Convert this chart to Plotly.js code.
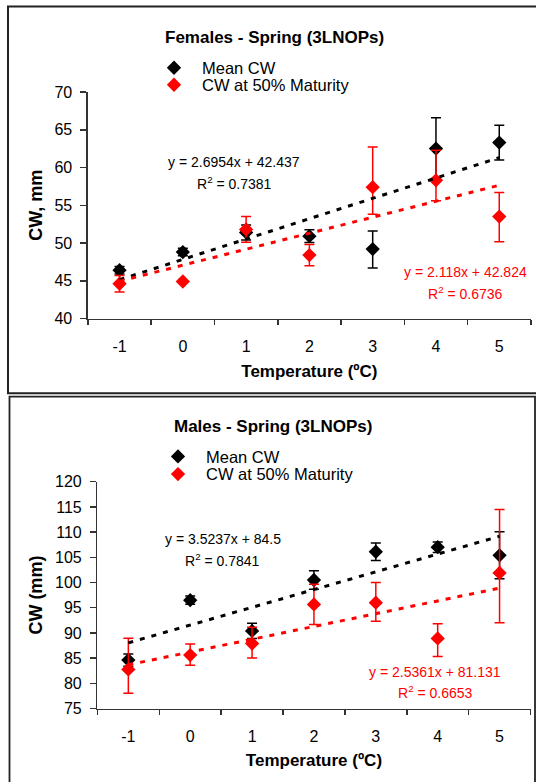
<!DOCTYPE html>
<html><head><meta charset="utf-8">
<script src="https://cdn.plot.ly/plotly-3.0.1.min.js"></script>
<style>html,body{margin:0;padding:0;background:#fff}#chart{width:536px;height:782px}</style>
</head><body><div id="chart"></div>
<script>
// ---- data ----
const temperature = [-1, 0, 1, 2, 3, 4, 5];
const tempLabels = ['-1', '0', '1', '2', '3', '4', '5'];

// Females - Spring
const femMeanCW = [46.4, 48.8, 51.4, 50.9, 49.2, 62.5, 63.3];
const femMeanErrPlus = [0.5, 0.5, 1.0, 0.85, 2.4, 4.1, 2.3];
const femMeanErrMinus = [0.5, 0.5, 1.0, 0.85, 2.5, 4.1, 2.3];
const femMatCW = [44.6, 44.9, 51.8, 48.4, 57.4, 58.3, 53.5];
const femMatErrPlus = [1.1, 0, 1.7, 1.4, 5.3, 4.0, 3.2];
const femMatErrMinus = [1.1, 0, 1.7, 1.4, 3.6, 2.7, 3.35];
const femSlope = [2.6954, 2.118];
const femIntercept = [42.437, 42.824];
const femR2 = ['0.7381', '0.6736'];
const femYTicks = [40, 45, 50, 55, 60, 65, 70];

// Males - Spring
const maleMeanCW = [84.6, 96.5, 90.4, 100.5, 106.1, 107.0, 105.4];
const maleMeanErr = [1.2, 0.8, 1.5, 1.85, 1.75, 1.05, 4.65];
const maleMatCW = [82.75, 85.6, 87.9, 95.65, 96.0, 88.9, 101.9];
const maleMatErrPlus = [6.2, 2.2, 3.2, 4.0, 4.0, 2.9, 12.6];
const maleMatErrMinus = [4.7, 2.0, 2.9, 4.0, 3.7, 3.6, 9.9];
const maleSlope = [3.5237, 2.5361];
const maleIntercept = [84.5, 81.131];
const maleR2 = ['0.7841', '0.6653'];
const maleYTicks = [75, 80, 85, 90, 95, 100, 105, 110, 115, 120];

const seriesNames = ['Mean CW', 'CW at 50% Maturity'];
const panelTitles = ['Females - Spring (3LNOPs)', 'Males - Spring (3LNOPs)'];
const yTitles = ['CW, mm', 'CW (mm)'];
const xTitle = 'Temperature (ºC)';

// ---- helpers ----
const W = 536, H = 782;
const px = x => x / W, py = y => 1 - y / H;
const FONT = 'Liberation Sans, Arial, Helvetica, sans-serif';
const BLACK = '#000000', RED = '#ff0000';

function markerTrace(y, plus, minus, color, name, xa, ya, legend) {
  return {
    type: 'scatter', mode: 'markers', x: temperature, y: y, name: name,
    xaxis: xa, yaxis: ya, legend: legend,
    marker: {symbol: 'diamond', size: 11, color: color},
    error_y: {type: 'data', symmetric: false, array: plus, arrayminus: minus,
              color: color, thickness: 1.5, width: 5},
    hoverinfo: 'x+y'
  };
}
function trendTrace(slope, intercept, color, xa, ya) {
  // Excel trendline uses x = 1..n (category index)
  const n = temperature.length;
  const xs = [temperature[0], temperature[n - 1]];
  const ys = [slope * 1 + intercept, slope * n + intercept];
  return {
    type: 'scatter', mode: 'lines', x: xs, y: ys, xaxis: xa, yaxis: ya,
    showlegend: false, hoverinfo: 'skip',
    line: {color: color, width: 3, dash: '5px,7px'}
  };
}

const data = [
  markerTrace(femMeanCW, femMeanErrPlus, femMeanErrMinus, BLACK, seriesNames[0], 'x', 'y', 'legend'),
  markerTrace(femMatCW, femMatErrPlus, femMatErrMinus, RED, seriesNames[1], 'x', 'y', 'legend2'),
  trendTrace(femSlope[0], femIntercept[0], BLACK, 'x', 'y'),
  trendTrace(femSlope[1], femIntercept[1], RED, 'x', 'y'),
  markerTrace(maleMeanCW, maleMeanErr, maleMeanErr, BLACK, seriesNames[0], 'x2', 'y2', 'legend3'),
  markerTrace(maleMatCW, maleMatErrPlus, maleMatErrMinus, RED, seriesNames[1], 'x2', 'y2', 'legend4'),
  trendTrace(maleSlope[0], maleIntercept[0], BLACK, 'x2', 'y2'),
  trendTrace(maleSlope[1], maleIntercept[1], RED, 'x2', 'y2')
];

function xAxis(d0, d1, anchor, standoff) {
  return {
    domain: [px(d0), px(d1)], anchor: anchor, range: [-1.5, 5.5],
    tickmode: 'array', tickvals: temperature, ticktext: tempLabels,
    ticks: '', ticklabelstandoff: 13,
    showline: true, linecolor: '#333', linewidth: 1.5,
    showgrid: false, zeroline: false, fixedrange: true,
    tickfont: {family: FONT, size: 16, color: '#000'},
    minor: {tickmode: 'linear', tick0: -1.5, dtick: 1, ticks: 'outside',
            ticklen: 5, tickwidth: 1.5, tickcolor: '#333', showgrid: false},
    title: {text: '<b>' + xTitle + '</b>', standoff: standoff,
            font: {family: FONT, size: 17, color: '#000'}}
  };
}
function yAxis(top, bottom, range, ticks, title, anchor) {
  return {
    domain: [py(bottom), py(top)], anchor: anchor, range: range,
    tickmode: 'array', tickvals: ticks,
    ticks: 'outside', ticklen: 6, tickwidth: 1.5, tickcolor: '#333',
    ticklabelstandoff: 5,
    showline: true, linecolor: '#333', linewidth: 1.5,
    showgrid: false, zeroline: false, fixedrange: true,
    tickfont: {family: FONT, size: 16, color: '#000'},
    title: {text: '<b>' + title + '</b>', standoff: 7,
            font: {family: FONT, size: 18, color: '#000'}}
  };
}
function legendAt(x, y) {
  return {x: px(x), y: py(y), xanchor: 'left', yanchor: 'middle',
          xref: 'paper', yref: 'paper', bgcolor: 'rgba(0,0,0,0)',
          borderwidth: 0, itemwidth: 46,
          font: {family: FONT, size: 16.5, color: '#000'}};
}
function ann(x, y, text, color, size, bold) {
  return {xref: 'paper', yref: 'paper', x: px(x), y: py(y), xanchor: 'center', yanchor: 'middle',
          showarrow: false, text: bold ? '<b>' + text + '</b>' : text,
          font: {family: FONT, size: size, color: color}};
}
const eq = (s, b) => 'y = ' + s + 'x + ' + b;
const r2 = v => 'R<sup>2</sup> = ' + v;

const layout = {
  width: W, height: H, autosize: false,
  margin: {l: 0, r: 0, t: 0, b: 0, pad: 0},
  paper_bgcolor: '#fff', plot_bgcolor: 'rgba(0,0,0,0)',
  font: {family: FONT, color: '#000'},
  xaxis: xAxis(87.9, 530.9, 'y', 11),
  yaxis: yAxis(92, 318.5, [40, 70], femYTicks, yTitles[0], 'x'),
  xaxis2: xAxis(97.4, 530.5, 'y2', 10),
  yaxis2: yAxis(481.7, 708.5, [75, 120], maleYTicks, yTitles[1], 'x2'),
  legend: legendAt(146, 68),
  legend2: legendAt(146, 85),
  legend3: legendAt(150, 456.7),
  legend4: legendAt(150, 474.3),
  annotations: [
    ann(274.4, 38, panelTitles[0], '#000', 17, true),
    ann(234, 162, eq(femSlope[0], femIntercept[0]), '#000', 14),
    ann(234, 183, r2(femR2[0]), '#000', 14),
    ann(465.3, 272, eq(femSlope[1], femIntercept[1]), RED, 14),
    ann(465.3, 293, r2(femR2[1]), RED, 14),
    ann(273, 426.7, panelTitles[1], '#000', 17, true),
    ann(222.5, 539, eq(maleSlope[0], maleIntercept[0]), '#000', 14),
    ann(222, 560, r2(maleR2[0]), '#000', 14),
    ann(435, 671.7, eq(maleSlope[1], maleIntercept[1]), RED, 14),
    ann(435, 691.7, r2(maleR2[1]), RED, 14)
  ],
  shapes: [
    {type: 'rect', xref: 'paper', yref: 'paper', x0: px(8), x1: px(545), y0: py(393.3), y1: py(6.5),
     line: {color: '#222', width: 2}},
    {type: 'rect', xref: 'paper', yref: 'paper', x0: px(9.5), x1: px(535), y0: py(795), y1: py(396.7),
     line: {color: '#222', width: 1.8}}
  ],
  showlegend: true
};

Plotly.newPlot('chart', data, layout, {staticPlot: true, displayModeBar: false});
</script>
</body></html>
